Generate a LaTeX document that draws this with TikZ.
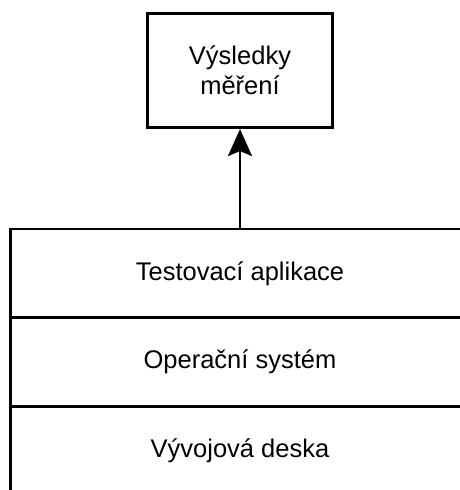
\documentclass[tikz,border=0pt]{standalone}
\usepackage{fontspec}
\setmainfont{Liberation Sans}
\usetikzlibrary{arrows.meta}
\begin{document}
\begin{tikzpicture}[x=1pt,y=-1pt,
  box/.style={draw=black, line width=2.6pt, rectangle, inner sep=0pt,
    font=\fontsize{25.5}{30}\selectfont, align=center},
  layer/.style={box, minimum width=459pt, minimum height=89pt},
  link/.style={line width=2.6pt, -{Stealth[length=27pt,width=24pt,inset=5pt]}}]
  \useasboundingbox (0,0) rectangle (460,490);
  \clip (0,0) rectangle (460,490);
  \node[box, minimum width=185pt, minimum height=114.5pt] (res) at (240,70.5) {Výsledky\\měření};
  \node[layer] (app) at (240,273.5) {Testovací aplikace};
  \node[layer] (os) at (240,362) {Operační systém};
  \node[layer] (board) at (240,450.5) {Vývojová deska};
  \draw[link] (app.north) -- (res.south);
\end{tikzpicture}
\end{document}
